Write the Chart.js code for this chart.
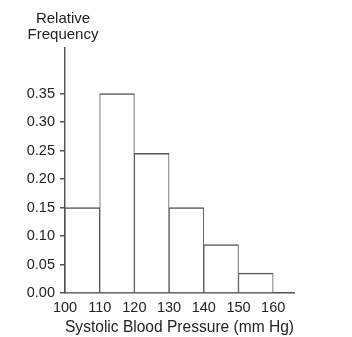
<!DOCTYPE html>
<html>
<head>
<meta charset="utf-8">
<script src="https://cdn.jsdelivr.net/npm/chart.js@4/dist/chart.umd.min.js"></script>
<style>
  html, body { margin: 0; padding: 0; background: #fff; }
  #wrap { width: 352px; height: 337px; position: relative; }
</style>
</head>
<body>
<div id="wrap"><canvas id="chart"></canvas></div>
<script>
// bin centres (mmHg) and relative frequencies
const binCenters = [105, 115, 125, 135, 145, 155];
const relFreq = [0.15, 0.35, 0.245, 0.15, 0.085, 0.035];
const xTicks = [100, 110, 120, 130, 140, 150, 160];
const yTicks = [0, 0.05, 0.10, 0.15, 0.20, 0.25, 0.30, 0.35];
const yTitleLines = ['Relative', 'Frequency'];
const xTitle = 'Systolic Blood Pressure (mm Hg)';

const ink = '#222';
const lineCol = '#555';
Chart.defaults.font.family = '"Liberation Sans", Arial, sans-serif';
Chart.defaults.color = ink;

// y axis title sits above the axis, centred on it
const yTitlePlugin = {
  id: 'yTitle',
  afterDraw(chart) {
    const { ctx } = chart;
    const y = chart.scales.y;
    ctx.save();
    ctx.font = '15px "Liberation Sans", Arial, sans-serif';
    ctx.fillStyle = ink;
    ctx.textAlign = 'center';
    ctx.textBaseline = 'middle';
    yTitleLines.forEach((t, i) => ctx.fillText(t, y.right - 2, 19 + i * 16));
    ctx.restore();
  },
};

new Chart(document.getElementById('chart'), {
  type: 'bar',
  data: {
    datasets: [{
      data: binCenters.map((x, i) => ({ x, y: relFreq[i] })),
      backgroundColor: '#fff',
      borderColor: lineCol,
      borderWidth: { top: 1.5, left: 1, right: 1, bottom: 0 },
      borderSkipped: 'bottom',
      barPercentage: 1,
      categoryPercentage: 1,
    }],
  },
  options: {
    responsive: true,
    maintainAspectRatio: false,
    animation: false,
    layout: { padding: { top: 48, right: 58, left: 0, bottom: 0 } },
    plugins: { legend: { display: false }, tooltip: { enabled: false } },
    scales: {
      x: {
        type: 'linear',
        offset: false,
        min: 100,
        max: 166,
        afterBuildTicks: (s) => { s.ticks = xTicks.map(v => ({ value: v })); },
        afterFit: (s) => { s.height = 44; },
        ticks: { font: { size: 14.5 }, color: ink, padding: 6, maxRotation: 0 },
        grid: { display: false, drawTicks: false },
        border: { color: lineCol, width: 1.5 },
        title: { display: true, text: xTitle, font: { size: 16 }, color: ink, padding: { top: 0, bottom: 0 } },
      },
      y: {
        min: 0,
        max: 0.43,
        afterBuildTicks: (s) => { s.ticks = yTicks.map(v => ({ value: v })); },
        afterFit: (s) => { s.width = 65; },
        ticks: { font: { size: 14.5 }, color: ink, padding: 5, callback: (v) => v.toFixed(2) },
        grid: { drawOnChartArea: false, drawTicks: true, tickLength: 5, color: lineCol, lineWidth: 1.5 },
        border: { color: lineCol, width: 1.5 },
      },
    },
  },
  plugins: [yTitlePlugin],
});
</script>
</body>
</html>
